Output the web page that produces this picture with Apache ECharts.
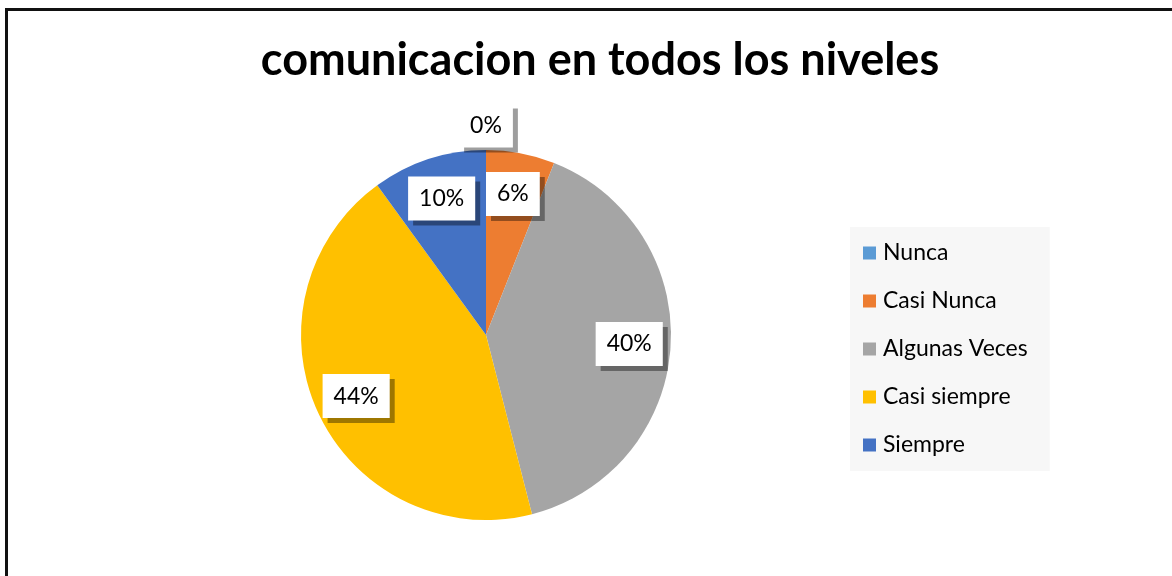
<!DOCTYPE html>
<html>
<head>
<meta charset="utf-8">
<script src="https://cdn.jsdelivr.net/npm/echarts@6/dist/echarts.min.js"></script>
<style>
  html, body { margin: 0; padding: 0; background: #fff; }
  #chart { width: 1172px; height: 576px; }
</style>
</head>
<body>
<div id="chart"></div>
<script>
// data
const categories = ['Nunca', 'Casi Nunca', 'Algunas Veces', 'Casi siempre', 'Siempre'];
const percents = [0, 6, 40, 44, 10];
const colors = ['#5B9BD5', '#ED7D31', '#A5A5A5', '#FFC000', '#4472C4'];

const chart = echarts.init(document.getElementById('chart'));

const pieData = categories.map((name, i) => ({
  name: name,
  value: percents[i],
  itemStyle: { color: colors[i] }
}));

const labelBox = {
  show: true,
  position: 'inside',
  formatter: '{c}%',
  fontFamily: 'Lato',
  fontSize: 23,
  color: '#000',
  backgroundColor: '#fff',
  padding: [11, 11, 10, 11],
  shadowColor: 'rgba(0,0,0,0.38)',
  shadowOffsetX: 5,
  shadowOffsetY: 5,
  shadowBlur: 0
};

const option = {
  animation: false,
  title: {
    text: 'comunicacion en todos los niveles',
    left: 595,
    top: 33,
    textAlign: 'center',
    textStyle: { fontFamily: 'Lato', fontWeight: 'bold', fontSize: 45, color: '#000' }
  },
  legend: {
    orient: 'vertical',
    left: 850,
    top: 227,
    data: categories,
    icon: 'rect',
    itemWidth: 13,
    itemHeight: 13,
    itemGap: 22,
    padding: [13, 22, 13, 13],
    backgroundColor: '#F7F7F7',
    textStyle: { fontFamily: 'Lato', fontSize: 23, lineHeight: 26, color: '#000', padding: [0, 0, 0, 2] }
  },
  graphic: [{
    type: 'rect',
    shape: { x: 6.5, y: 9.5, width: 1200, height: 600 },
    style: { fill: 'none', stroke: '#111', lineWidth: 3 },
    silent: true
  }],
  series: [
    {
      type: 'pie',
      center: [486, 335],
      radius: [0, 185],
      startAngle: 90,
      clockwise: true,
      label: { show: false },
      labelLine: { show: false },
      itemStyle: { borderWidth: 0 },
      emphasis: { disabled: true },
      data: pieData
    },
    {
      // transparent ring only used to place the labels
      type: 'pie',
      center: [486, 335],
      radius: [96, 185],
      startAngle: 90,
      clockwise: true,
      silent: true,
      itemStyle: { color: 'rgba(0,0,0,0)' },
      label: labelBox,
      labelLine: { show: false },
      labelLayout: function (p) {
        if (percents[p.dataIndex] === 0) return { dy: -66 };
        return {};
      },
      emphasis: { disabled: true },
      data: categories.map((name, i) => ({ name: name, value: percents[i] }))
    }
  ]
};

chart.setOption(option);
</script>
</body>
</html>
